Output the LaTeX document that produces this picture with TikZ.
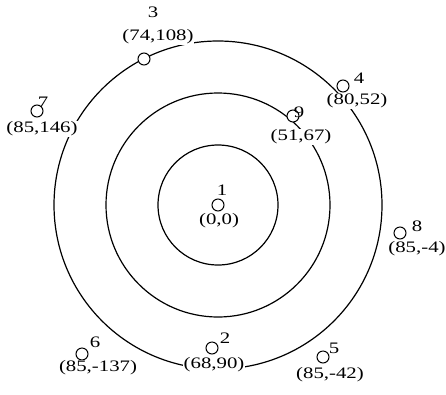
\documentclass[tikz,border=0pt]{standalone}
\usepackage{fontspec}
\setmainfont[FakeStretch=1.3]{Liberation Serif}
\begin{document}
\begin{tikzpicture}[x=1pt,y=-1pt,
  ring/.style={draw=black,line width=1.2pt},
  pt/.style={circle,draw=black,fill=white,line width=1pt,minimum size=12pt,inner sep=0pt},
  num/.style={inner sep=0pt,font=\fontsize{16}{16}\selectfont},
  coord/.style={fill=white,inner sep=0.5pt,font=\fontsize{16}{16}\selectfont}]
\useasboundingbox (0,0) rectangle (446,394);
\coordinate (c) at (218,205);
\draw[ring] (c) circle[radius=60];
\draw[ring] (c) circle[radius=112];
\draw[ring] (c) circle[radius=164];
% points
\node[pt] (p1) at (218,205) {};
\node[pt] (p3) at (144,59) {};
\node[pt] (p4) at (343,86) {};
\node[pt] (p9) at (293,116) {};
\node[pt] (p7) at (37,111) {};
\node[pt] (p8) at (400,233) {};
\node[pt] (p6) at (82,354) {};
\node[pt] (p2) at (212,348) {};
\node[pt] (p5) at (323,357) {};
% numbers
\node[num] (n1) at (222,190) {1};
\node[num] (n3) at (153,12) {3};
\node[num] (n4) at (359,78) {4};
\node[num] (n9) at (299,112) {9};
\node[num] (n7) at (43,102) {7};
\node[num] (n8) at (417,226) {8};
\node[num] (n6) at (95,342) {6};
\node[num] (n2) at (225,338) {2};
\node[num] (n5) at (334,348) {5};
% coordinates
\node[coord] (c1) at (219,221) {(0,0)};
\node[coord] (c3) at (158,37) {(74,108)};
\node[coord] (c4) at (357,101) {(80,52)};
\node[coord] (c9) at (301,137) {(51,67)};
\node[coord] (c7) at (42,129) {(85,146)};
\node[coord] (c8) at (417,249) {(85,-4)};
\node[coord] (c6) at (98,368) {(85,-137)};
\node[coord] (c2) at (214,365) {(68,90)};
\node[coord] (c5) at (330,375) {(85,-42)};
\end{tikzpicture}
\end{document}
